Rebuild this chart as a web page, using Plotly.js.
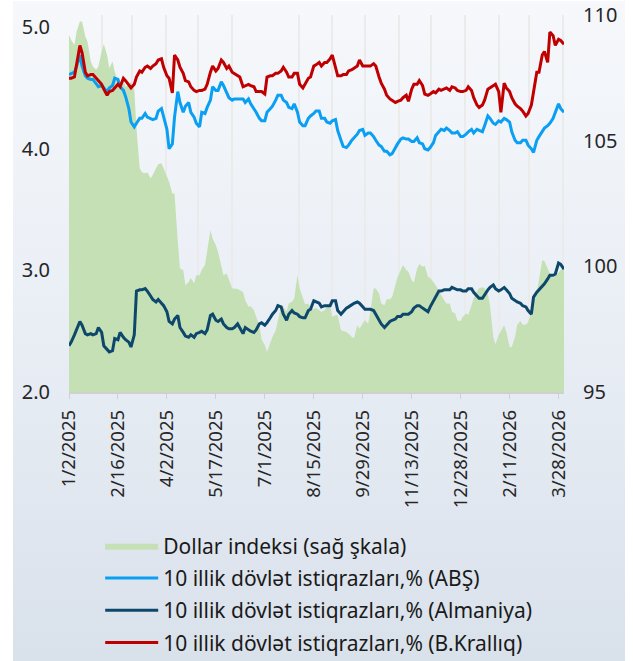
<!DOCTYPE html>
<html><head><meta charset="utf-8">
<script src="https://cdn.plot.ly/plotly-3.0.1.min.js"></script>
<style>
html,body{margin:0;padding:0;background:#fff;}
#bg{position:absolute;left:13px;top:1px;width:612px;height:660px;background:linear-gradient(to bottom,#f6f8fb 0%,#e9eef5 50%,#d9e1eb 100%);}
#chart{position:absolute;left:0;top:0;width:633px;height:661px;}
</style></head><body>
<div id="bg"></div><div id="chart"></div>
<script>
const dates = [
'2025-01-02','2025-01-04','2025-01-07','2025-01-09','2025-01-12','2025-01-14','2025-01-17','2025-01-19','2025-01-22','2025-01-24','2025-01-27','2025-01-29',
'2025-02-01','2025-02-03','2025-02-06','2025-02-08','2025-02-11','2025-02-13','2025-02-16','2025-02-18','2025-02-21','2025-02-23','2025-02-26','2025-02-28',
'2025-03-03','2025-03-05','2025-03-08','2025-03-10','2025-03-13','2025-03-15','2025-03-18','2025-03-20','2025-03-23','2025-03-25','2025-03-28','2025-03-30',
'2025-04-02','2025-04-04','2025-04-07','2025-04-09','2025-04-12','2025-04-14','2025-04-17','2025-04-19','2025-04-22','2025-04-24','2025-04-27','2025-04-29',
'2025-05-02','2025-05-04','2025-05-07','2025-05-09','2025-05-12','2025-05-14','2025-05-17','2025-05-19','2025-05-22','2025-05-24','2025-05-27','2025-05-29',
'2025-06-01','2025-06-03','2025-06-06','2025-06-08','2025-06-11','2025-06-13','2025-06-16','2025-06-18','2025-06-21','2025-06-23','2025-06-26','2025-06-28',
'2025-07-01','2025-07-03','2025-07-06','2025-07-08','2025-07-11','2025-07-13','2025-07-16','2025-07-18','2025-07-21','2025-07-23','2025-07-26','2025-07-28',
'2025-07-31','2025-08-02','2025-08-05','2025-08-07','2025-08-10','2025-08-12','2025-08-15','2025-08-17','2025-08-20','2025-08-22','2025-08-25','2025-08-27',
'2025-08-30','2025-09-01','2025-09-04','2025-09-06','2025-09-09','2025-09-11','2025-09-14','2025-09-16','2025-09-19','2025-09-21','2025-09-24','2025-09-26',
'2025-09-29','2025-10-01','2025-10-04','2025-10-06','2025-10-09','2025-10-11','2025-10-14','2025-10-16','2025-10-19','2025-10-21','2025-10-24','2025-10-26',
'2025-10-29','2025-10-31','2025-11-03','2025-11-05','2025-11-08','2025-11-10','2025-11-13','2025-11-15','2025-11-18','2025-11-20','2025-11-23','2025-11-25',
'2025-11-28','2025-11-30','2025-12-03','2025-12-05','2025-12-08','2025-12-10','2025-12-13','2025-12-15','2025-12-18','2025-12-20','2025-12-23','2025-12-25',
'2025-12-28','2025-12-30','2026-01-02','2026-01-04','2026-01-07','2026-01-09','2026-01-12','2026-01-14','2026-01-17','2026-01-19','2026-01-22','2026-01-24',
'2026-01-27','2026-01-29','2026-02-01','2026-02-03','2026-02-06','2026-02-08','2026-02-11','2026-02-13','2026-02-16','2026-02-18','2026-02-21','2026-02-23',
'2026-02-26','2026-02-28','2026-03-03','2026-03-05','2026-03-08','2026-03-10','2026-03-13','2026-03-15','2026-03-18','2026-03-20','2026-03-23','2026-03-25',
'2026-03-28','2026-03-30','2026-04-02'];

const dollarIndex = [
109.21,109.01,108.81,109.34,109.74,109.74,109.14,108.94,108.15,107.95,107.82,107.95,
108.55,108.84,108.41,107.88,108.15,107.75,107.35,107.28,107.42,107.15,107.22,107.35,
107.02,105.50,103.90,103.74,103.70,103.74,103.50,103.63,103.90,104.06,104.10,103.90,
103.63,103.37,102.90,102.90,101.00,99.91,99.85,99.25,99.38,99.54,99.32,99.65,
99.65,99.85,100.05,100.58,101.44,101.11,100.84,100.58,100.05,99.65,99.71,99.45,
99.12,99.12,99.10,99.05,98.98,98.65,98.39,98.41,98.25,97.99,97.66,97.10,
96.86,96.59,96.99,97.19,97.46,97.86,98.43,98.39,98.19,98.52,98.59,98.72,
99.65,99.12,98.72,98.49,98.52,98.32,98.30,98.35,98.25,98.19,98.25,98.40,
98.43,97.99,98.05,98.05,97.46,97.44,97.39,97.32,97.19,97.15,97.66,97.52,
97.72,97.86,97.72,98.19,99.12,99.12,98.92,98.52,98.45,98.69,98.69,98.78,
99.25,99.58,99.85,100.05,99.85,99.78,99.45,99.36,99.91,100.09,99.98,100.02,
99.58,99.54,99.38,99.25,99.05,98.86,98.65,98.51,98.52,98.19,98.12,97.84,
97.82,97.99,98.12,98.07,98.45,98.73,99.01,99.13,99.17,99.13,98.88,98.45,
97.19,96.90,97.28,97.44,97.66,97.39,96.79,96.79,97.19,97.68,97.82,97.68,
97.68,97.79,98.19,98.85,98.98,99.46,100.25,100.21,99.91,99.71,99.54,99.62,
99.78,99.85,99.91];

const usYield = [
4.61,4.62,4.63,4.68,4.77,4.68,4.60,4.58,4.57,4.57,4.53,4.51,
4.52,4.50,4.47,4.50,4.52,4.58,4.57,4.51,4.48,4.43,4.33,4.22,
4.18,4.21,4.25,4.25,4.29,4.26,4.25,4.24,4.25,4.31,4.33,4.27,
4.16,4.00,4.04,4.26,4.47,4.38,4.30,4.35,4.38,4.30,4.26,4.21,
4.18,4.30,4.29,4.34,4.40,4.51,4.48,4.48,4.55,4.52,4.45,4.42,
4.40,4.41,4.41,4.41,4.41,4.38,4.41,4.37,4.33,4.30,4.25,4.23,
4.23,4.30,4.33,4.35,4.40,4.44,4.44,4.40,4.38,4.34,4.33,4.37,
4.30,4.22,4.19,4.19,4.25,4.27,4.29,4.31,4.31,4.25,4.25,4.22,
4.21,4.23,4.24,4.15,4.07,4.02,4.01,4.03,4.07,4.09,4.12,4.15,
4.16,4.11,4.13,4.13,4.10,4.07,4.03,4.02,3.98,3.98,3.95,3.96,
4.01,4.04,4.08,4.09,4.08,4.08,4.06,4.06,4.09,4.05,4.04,4.00,
3.99,4.01,4.05,4.11,4.14,4.16,4.15,4.17,4.15,4.13,4.13,4.14,
4.10,4.10,4.12,4.14,4.16,4.13,4.16,4.15,4.14,4.19,4.27,4.25,
4.21,4.20,4.23,4.22,4.25,4.24,4.22,4.14,4.07,4.05,4.05,4.07,
4.07,4.03,4.00,3.97,4.07,4.10,4.14,4.17,4.19,4.21,4.25,4.30,
4.37,4.33,4.30];

const deYield = [
2.38,2.41,2.47,2.51,2.58,2.55,2.48,2.47,2.48,2.47,2.48,2.53,
2.49,2.38,2.35,2.33,2.34,2.44,2.43,2.49,2.45,2.43,2.41,2.37,
2.47,2.83,2.84,2.84,2.85,2.83,2.79,2.76,2.74,2.76,2.73,2.71,
2.66,2.58,2.56,2.60,2.63,2.53,2.49,2.46,2.45,2.47,2.45,2.48,
2.49,2.50,2.48,2.51,2.63,2.64,2.59,2.58,2.60,2.56,2.53,2.52,
2.52,2.53,2.56,2.53,2.48,2.53,2.51,2.50,2.49,2.51,2.56,2.57,
2.55,2.57,2.61,2.64,2.67,2.71,2.70,2.64,2.59,2.64,2.67,2.65,
2.64,2.62,2.61,2.61,2.67,2.68,2.75,2.74,2.73,2.70,2.71,2.71,
2.71,2.75,2.75,2.67,2.64,2.66,2.69,2.70,2.72,2.73,2.74,2.73,
2.70,2.68,2.68,2.68,2.67,2.64,2.60,2.56,2.53,2.55,2.58,2.59,
2.60,2.62,2.62,2.64,2.64,2.64,2.66,2.69,2.71,2.71,2.69,2.68,
2.66,2.70,2.75,2.78,2.83,2.83,2.84,2.84,2.84,2.86,2.85,2.84,
2.84,2.83,2.83,2.85,2.85,2.82,2.79,2.77,2.77,2.80,2.84,2.86,
2.88,2.85,2.83,2.84,2.86,2.84,2.81,2.77,2.75,2.74,2.73,2.71,
2.70,2.67,2.64,2.78,2.82,2.84,2.87,2.89,2.93,2.96,2.96,2.97,
3.06,3.05,3.01];

const ukYield = [
4.58,4.58,4.59,4.71,4.85,4.79,4.63,4.60,4.61,4.61,4.58,4.56,
4.53,4.49,4.44,4.47,4.48,4.50,4.53,4.51,4.58,4.56,4.52,4.50,
4.53,4.59,4.64,4.63,4.67,4.68,4.66,4.68,4.70,4.73,4.74,4.67,
4.60,4.58,4.46,4.77,4.73,4.67,4.62,4.56,4.55,4.51,4.48,4.47,
4.48,4.48,4.49,4.53,4.63,4.68,4.64,4.66,4.73,4.71,4.66,4.68,
4.63,4.62,4.60,4.59,4.51,4.52,4.53,4.52,4.51,4.47,4.47,4.47,
4.45,4.59,4.60,4.60,4.62,4.62,4.64,4.67,4.63,4.59,4.59,4.62,
4.62,4.53,4.50,4.53,4.58,4.59,4.68,4.69,4.71,4.68,4.71,4.71,
4.74,4.77,4.66,4.60,4.60,4.61,4.61,4.64,4.65,4.66,4.68,4.73,
4.68,4.68,4.68,4.68,4.70,4.68,4.59,4.54,4.49,4.44,4.41,4.40,
4.38,4.39,4.40,4.42,4.44,4.39,4.49,4.53,4.53,4.56,4.52,4.45,
4.44,4.45,4.47,4.46,4.49,4.48,4.49,4.50,4.48,4.51,4.50,4.48,
4.47,4.47,4.48,4.51,4.48,4.42,4.36,4.34,4.36,4.40,4.49,4.50,
4.52,4.53,4.47,4.30,4.54,4.50,4.47,4.42,4.37,4.35,4.33,4.31,
4.27,4.29,4.36,4.47,4.63,4.63,4.77,4.80,4.71,4.96,4.93,4.85,
4.90,4.89,4.86];

const seriesNames = [
'Dollar indeksi (sağ şkala)',
'10 illik dövlət istiqrazları,% (ABŞ)',
'10 illik dövlət istiqrazları,% (Almaniya)',
'10 illik dövlət istiqrazları,% (B.Krallıq)'];

const leftTicks = [2, 3, 4, 5];
const leftTickText = ['2.0', '3.0', '4.0', '5.0'];
const rightTicks = [95, 100, 105, 110];

const FONT = 'Noto Sans, Open Sans, sans-serif';

const traces = [
  {x: dates, y: dollarIndex, name: seriesNames[0], legendgroup: 'g0', type: 'scatter', mode: 'lines',
   fill: 'tozeroy', fillcolor: '#c5e0b4', line: {width: 0, color: '#c5e0b4'}, yaxis: 'y', hoverinfo: 'skip'},
  {x: dates, y: usYield, name: seriesNames[1], legendgroup: 'g1', type: 'scatter', mode: 'lines',
   line: {width: 3, color: '#0a9ff2'}, yaxis: 'y2'},
  {x: dates, y: deYield, name: seriesNames[2], legendgroup: 'g2', type: 'scatter', mode: 'lines',
   line: {width: 3, color: '#0d486c'}, yaxis: 'y2'},
  {x: dates, y: ukYield, name: seriesNames[3], legendgroup: 'g3', type: 'scatter', mode: 'lines',
   line: {width: 3, color: '#c00000'}, yaxis: 'y2'}
];

const layout = {
  width: 633, height: 661,
  margin: {l: 69, r: 69, t: 15, b: 269, autoexpand: false},
  paper_bgcolor: 'rgba(0,0,0,0)',
  plot_bgcolor: 'rgba(0,0,0,0)',
  font: {family: FONT, color: '#262626'},
  showlegend: true,
  legend: {x: 0.063, y: 0.205, xanchor: 'left', yanchor: 'top', yref: 'container',
    font: {family: FONT, size: 21, color: '#1a1a1a'},
    bgcolor: 'rgba(0,0,0,0)', itemwidth: 53, traceorder: 'grouped', tracegroupgap: 2},
  xaxis: {
    type: 'date',
    range: ['2025-01-02', '2026-04-02'],
    tickmode: 'linear', tick0: '2025-01-02', dtick: 45 * 86400000,
    tickformat: '%-m/%-d/%Y', tickangle: -90,
    tickfont: {family: FONT, size: 18.5, color: '#262626'},
    ticks: 'outside', ticklen: 5, tickcolor: '#d0d0d0', tickwidth: 1,
    ticklabelstandoff: 4,
    showline: true, linecolor: '#d0d0d0', linewidth: 1.5,
    showgrid: false, zeroline: false, automargin: false,
    minor: {dtick: 'M1', tick0: '2025-01-01', showgrid: true, gridcolor: '#ebebeb', gridwidth: 2, ticks: ''}
  },
  yaxis: {
    side: 'right', range: [95, 110],
    tickmode: 'array', tickvals: rightTicks, ticktext: rightTicks.map(String),
    tickfont: {family: FONT, size: 20, color: '#262626'},
    showgrid: false, zeroline: false, showline: false, ticks: '',
    ticklabelstandoff: 18, automargin: false
  },
  yaxis2: {
    side: 'left', overlaying: 'y', range: [2, 5.1],
    tickmode: 'array', tickvals: leftTicks, ticktext: leftTickText,
    tickfont: {family: FONT, size: 20, color: '#262626'},
    showgrid: false, zeroline: false, showline: false, ticks: '',
    ticklabelstandoff: 18, automargin: false
  }
};

Plotly.newPlot('chart', traces, layout, {displayModeBar: false, staticPlot: true});
</script>
</body></html>
